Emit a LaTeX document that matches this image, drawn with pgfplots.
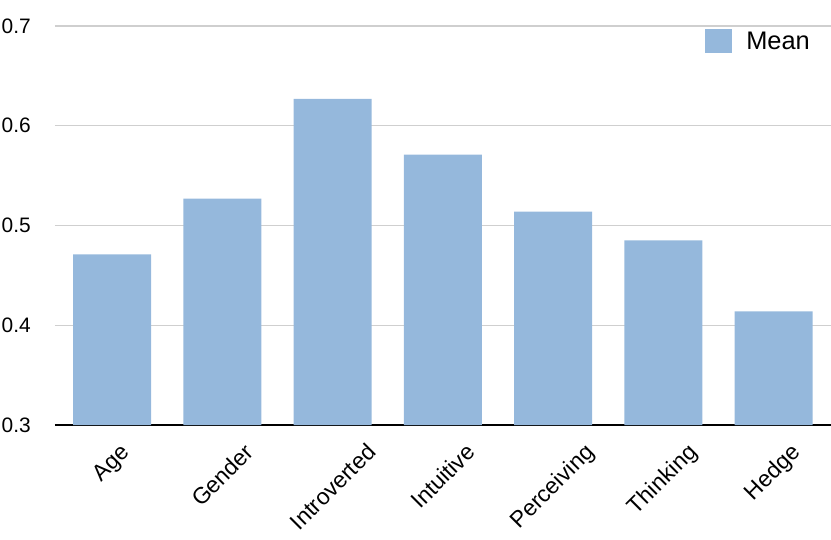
\documentclass[border=0pt]{standalone}
\usepackage{graphicx}
\usepackage{pgfplots}
\pgfplotsset{compat=1.18}
\usepackage{fontspec}
\setmainfont{Liberation Sans}
\definecolor{barblue}{HTML}{95B8DC}
\definecolor{gridgray}{HTML}{CFCFCF}
\begin{document}
\begin{tikzpicture}
\begin{axis}[
  scale only axis,
  width=776bp, height=399bp,
  xmin=-0.517, xmax=6.52,
  ymin=0.3, ymax=0.7,
  ytick={0.3,0.4,...,0.7},
  yticklabel style={/pgf/number format/fixed,/pgf/number format/precision=1,
    font=\fontsize{21}{24}\selectfont, inner sep=0pt, anchor=east, xshift=-24bp},
  /pgf/number format/assume math mode=true,
  xtick={0,...,6},
  xticklabels={\rotatebox{45}{Age},\rotatebox{45}{Gender},\rotatebox{45}{Introverted},\rotatebox{45}{Intuitive},\rotatebox{45}{Perceiving},\rotatebox{45}{Thinking},\rotatebox{45}{Hedge}},
  xticklabel style={font=\fontsize{23}{26}\selectfont, inner sep=0pt, anchor=north, yshift=-17bp},
  major tick length=0pt,
  axis x line*=bottom, axis y line*=left,
  x axis line style={black, line width=2bp, -},
  y axis line style={draw=none},
  ymajorgrids,
  grid style={gridgray, line width=1.5bp},
  legend style={draw=none, fill=none, inner sep=0pt, at={(rel axis cs:1,1)}, anchor=north east, font=\fontsize{25.5}{28}\selectfont, xshift=-19bp, yshift=-3bp},
  legend image code/.code={\fill[barblue] (0bp,-12bp) rectangle (27bp,12bp);},
  legend cell align=left,
  clip=false,
]
\addplot[ybar, bar width=78bp, fill=barblue, draw=none, bar shift=0pt] coordinates {
(0,0.471) (1,0.527) (2,0.627) (3,0.571) (4,0.514) (5,0.485) (6,0.414)};
\addlegendentry{\hspace{12bp}Mean}
\coordinate (sw) at (rel axis cs:0,0);
\coordinate (ne) at (rel axis cs:1,1);
\end{axis}
\pgfresetboundingbox
\path ([xshift=-55bp,yshift=-115bp]sw) rectangle ([yshift=26bp]ne);
\end{tikzpicture}
\end{document}
